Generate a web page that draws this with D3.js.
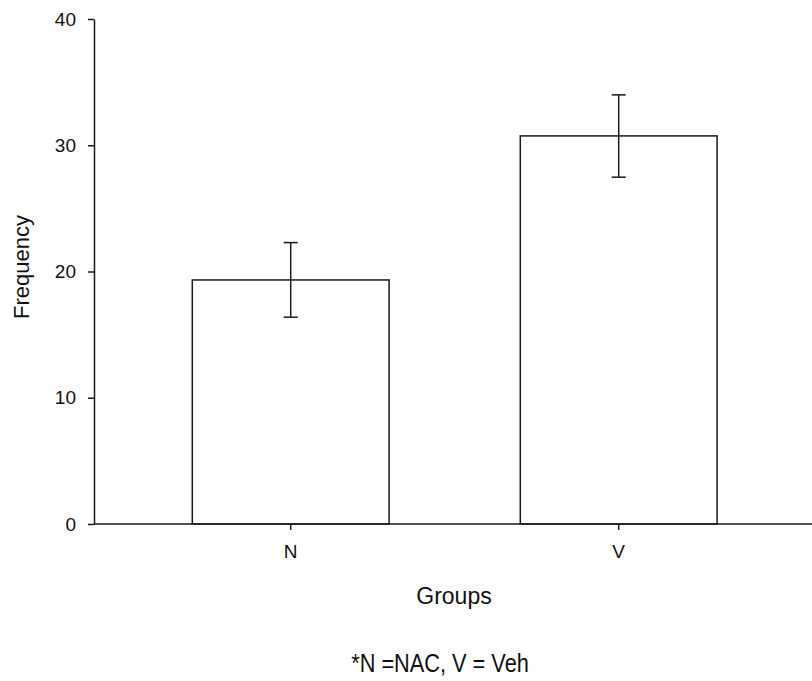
<!DOCTYPE html>
<html>
<head>
<meta charset="utf-8">
<script src="https://cdn.jsdelivr.net/npm/d3@7"></script>
<style>
  html, body { margin: 0; padding: 0; background: #fff; }
  svg { display: block; }
</style>
</head>
<body>
<svg id="chart" width="812" height="681"></svg>
<script>
const categories = ["N", "V"];
const means = [19.33, 30.74];
const errLow = [16.38, 27.47];
const errHigh = [22.29, 33.99];
const yTicks = [0, 10, 20, 30, 40];
const xTitle = "Groups";
const yTitle = "Frequency";
const footnote = "*N =NAC, V = Veh";

const svg = d3.select("#chart");
const ink = "#1a1a1a";
const font = "Arial, 'Liberation Sans', sans-serif";

const y = d3.scaleLinear().domain([0, 40]).range([524, 19]);
const x = d3.scaleBand().domain(categories).range([126.7, 782.7]).paddingInner(0.4).paddingOuter(0.2);

// bars
svg.selectAll("rect.bar").data(categories).join("rect")
  .attr("class", "bar")
  .attr("x", d => x(d))
  .attr("y", (d, i) => y(means[i]))
  .attr("width", x.bandwidth())
  .attr("height", (d, i) => y(0) - y(means[i]))
  .attr("fill", "#fff").attr("stroke", ink).attr("stroke-width", 1.5);

// error bars
const eb = svg.append("g").attr("stroke", ink).attr("stroke-width", 1.5);
categories.forEach((c, i) => {
  const cx = x(c) + x.bandwidth() / 2;
  eb.append("line").attr("x1", cx).attr("x2", cx).attr("y1", y(errLow[i])).attr("y2", y(errHigh[i]));
  eb.append("line").attr("x1", cx - 7).attr("x2", cx + 7).attr("y1", y(errLow[i])).attr("y2", y(errLow[i]));
  eb.append("line").attr("x1", cx - 7).attr("x2", cx + 7).attr("y1", y(errHigh[i])).attr("y2", y(errHigh[i]));
});

// y axis
const yAxis = svg.append("g").attr("transform", "translate(94,0)")
  .call(d3.axisLeft(y).tickValues(yTicks).tickSize(6).tickPadding(12).tickSizeOuter(0));
yAxis.select(".domain").attr("stroke", ink).attr("stroke-width", 1.5);
yAxis.selectAll(".tick line").attr("stroke", ink).attr("stroke-width", 1.5);
yAxis.selectAll(".tick text").attr("font-family", font).attr("font-size", 19).attr("fill", "#111");

// x axis
const xAxis = svg.append("g").attr("transform", "translate(0,524)")
  .call(d3.axisBottom(x).tickSize(6).tickPadding(15).tickSizeOuter(0));
xAxis.select(".domain").remove();
xAxis.append("line").attr("x1", 94).attr("x2", 812).attr("y1", 0).attr("y2", 0).attr("stroke", ink).attr("stroke-width", 1.5);
xAxis.selectAll(".tick line").attr("stroke", ink).attr("stroke-width", 1.5);
xAxis.selectAll(".tick text").attr("font-family", font).attr("font-size", 19).attr("fill", "#111");

// titles
svg.append("text").attr("x", 454).attr("y", 604).attr("text-anchor", "middle")
  .attr("font-family", font).attr("font-size", 23).attr("fill", "#111").text(xTitle);
svg.append("text").attr("transform", "translate(29,267) rotate(-90)").attr("text-anchor", "middle")
  .attr("font-family", font).attr("font-size", 22).attr("fill", "#111").text(yTitle);
svg.append("text").attr("transform", "translate(440,672) scale(0.87,1)").attr("text-anchor", "middle")
  .attr("font-family", font).attr("font-size", 25).attr("fill", "#111").text(footnote);
</script>
</body>
</html>
